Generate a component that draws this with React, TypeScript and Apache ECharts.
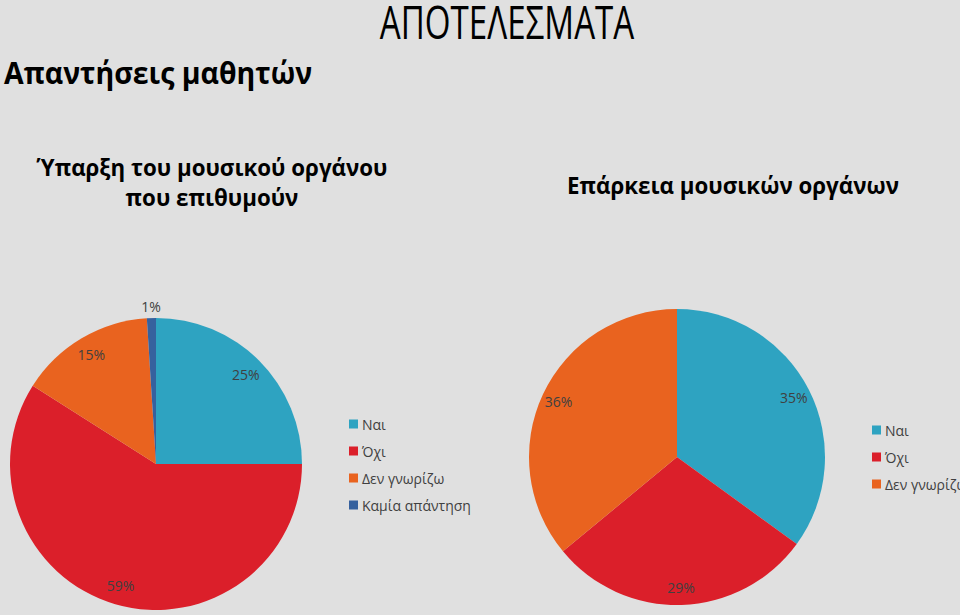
import React, { useEffect, useRef } from "react";
import * as echarts from "echarts";

const names1 = ["Ναι", "Όχι", "Δεν γνωρίζω", "Καμία απάντηση"];
const values1 = [25, 59, 15, 1];
const names2 = ["Ναι", "Όχι", "Δεν γνωρίζω"];
const values2 = [35, 29, 36];
const colors = ["#2ea3c1", "#db1f2a", "#e9631f", "#36619e"];

const mainTitle = "ΑΠΟΤΕΛΕΣΜΑΤΑ";
const subTitle = "Απαντήσεις μαθητών";
const chart1Title = ["Ύπαρξη του μουσικού οργάνου", "που επιθυμούν"];
const chart2Title = "Επάρκεια μουσικών οργάνων";

const FONT = '"Open Sans", "Noto Sans", sans-serif';

export default function App() {
  const ref = useRef<HTMLDivElement>(null);
  useEffect(() => {
    if (!ref.current) return;
    const chart = echarts.init(ref.current, null, { renderer: "svg" });
    const data1 = names1.map((n, i) => ({ name: n, value: values1[i], itemStyle: { color: colors[i] } }));
    const data2 = names2.map((n, i) => ({ name: n, value: values2[i], itemStyle: { color: colors[i] } }));
    const labelStyle = { color: "#404040", fontSize: 14, fontFamily: FONT };
    const overlay1 = names1.map((n, i) => ({
      name: n,
      value: values1[i],
      itemStyle: { color: "transparent" },
      label: { show: values1[i] >= 5 },
    }));
    const overlay1Outer = names1.map((n, i) => ({
      name: n,
      value: values1[i],
      itemStyle: { color: "transparent" },
      label: { show: values1[i] < 5 },
    }));
    const overlay2 = names2.map((n, i) => ({ name: n, value: values2[i], itemStyle: { color: "transparent" } }));
    const textEl = (text: string, x: number, y: number, size: number, weight: string, sx = 1, align = "center") => ({
      type: "text",
      x,
      y,
      scaleX: sx,
      style: {
        text,
        fill: "#000",
        font: `${weight} ${size}px ${FONT}`,
        textAlign: align,
        textVerticalAlign: "middle",
        align,
        verticalAlign: "middle",
      },
    });
    const overlayCommon = {
      type: "pie",
      startAngle: 90,
      clockwise: true,
      labelLine: { show: false },
      emphasis: { disabled: true },
      silent: true,
    };
    chart.setOption({
      animation: false,
      backgroundColor: "#e0e0e0",
      graphic: [
        textEl(mainTitle, 507, 21, 46, "normal", 0.72),
        textEl(subTitle, 4, 73, 30, "bold", 0.95, "left"),
        textEl(chart1Title[0], 212, 167, 24, "bold", 0.93),
        textEl(chart1Title[1], 212, 197, 24, "bold", 0.93),
        textEl(chart2Title, 733, 185, 24, "bold", 0.93),
      ],
      legend: [
        {
          data: names1,
          orient: "vertical",
          left: 349,
          top: 417,
          padding: 0,
          itemWidth: 9,
          itemHeight: 9,
          itemGap: 13,
          icon: "rect",
          textStyle: { color: "#404040", fontSize: 14, fontFamily: FONT, padding: [0, 0, 0, -1] },
        },
        {
          data: names2,
          orient: "vertical",
          left: 872,
          top: 423,
          padding: 0,
          itemWidth: 9,
          itemHeight: 9,
          itemGap: 13,
          icon: "rect",
          textStyle: { color: "#404040", fontSize: 14, fontFamily: FONT, padding: [0, 0, 0, -1] },
        },
      ],
      series: [
        {
          type: "pie",
          center: [156, 464],
          radius: 146,
          startAngle: 90,
          clockwise: true,
          data: data1,
          label: { show: false },
          labelLine: { show: false },
          emphasis: { disabled: true },
          silent: true,
        },
        {
          type: "pie",
          center: [677, 457],
          radius: 148,
          startAngle: 90,
          clockwise: true,
          data: data2,
          label: { show: false },
          labelLine: { show: false },
          emphasis: { disabled: true },
          silent: true,
        },
        {
          ...overlayCommon,
          center: [156, 464],
          radius: [100, 148],
          data: overlay1,
          label: { position: "inside", formatter: "{c}%", ...labelStyle },
        },
        {
          ...overlayCommon,
          center: [156, 464],
          radius: [146, 164],
          data: overlay1Outer,
          label: { position: "inside", formatter: "{c}%", ...labelStyle },
        },
        {
          ...overlayCommon,
          center: [677, 457],
          radius: [106, 150],
          data: overlay2,
          label: { show: true, position: "inside", formatter: "{c}%", ...labelStyle },
        },
      ],
    });
    return () => chart.dispose();
  }, []);
  return <div ref={ref} style={{ position: "fixed", left: 0, top: 0, width: 960, height: 615 }} />;
}
